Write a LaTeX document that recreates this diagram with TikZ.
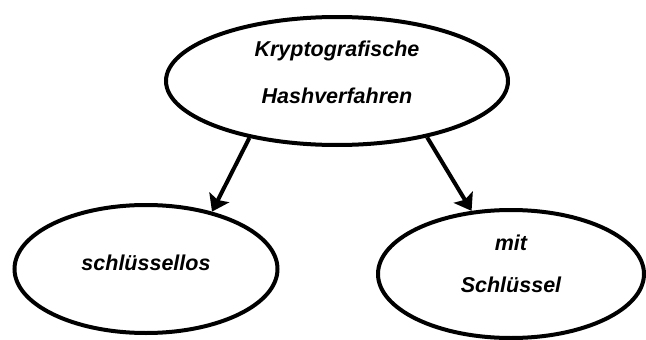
\documentclass[tikz,border=0pt]{standalone}
\usepackage{fontspec}
\setmainfont{Liberation Sans}
\usepackage{tikz}
\usetikzlibrary{positioning,arrows.meta,shapes.geometric}
\tikzset{
  oval/.style={ellipse, draw=black, line width=4pt, fill=white, inner sep=0pt,
               align=center, font=\fontsize{21.5}{47}\selectfont\bfseries\itshape},
  link/.style={-{Stealth[length=16pt, width=22pt, inset=3pt]}, line width=4pt, black}
}

\begin{document}
\begin{tikzpicture}[x=1pt, y=-1pt]
        \useasboundingbox (0,0) rectangle (646,340);
        \node[oval, minimum width=342pt, minimum height=128pt, text depth=17pt] (hash) at (337,81)
             {Kryptografische\\Hashverfahren};
        \node[oval, minimum width=263pt, minimum height=128pt, text depth=12pt] (ohne) at (146,269)
             {schlüssellos};
        \node[oval, minimum width=266pt, minimum height=128pt, text depth=20pt,
              font=\fontsize{21.5}{42}\selectfont\bfseries\itshape] (mit) at (511,274)
             {mit\\Schlüssel};
        \draw[link] (hash.213) -- (ohne.41);
        \draw[link] (hash.328) -- (mit.122);
      \end{tikzpicture}
\end{document}
